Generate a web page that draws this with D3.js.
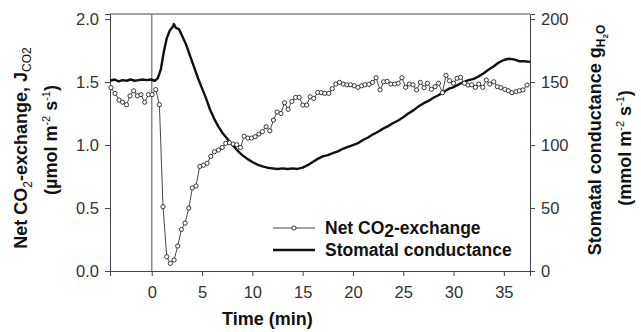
<!DOCTYPE html>
<html>
<head>
<meta charset="utf-8">
<script src="https://cdn.jsdelivr.net/npm/d3@7"></script>
<style>
  body { margin: 0; background: #fff; }
  text { font-family: "Liberation Sans", Arial, sans-serif; }
</style>
</head>
<body>
<div id="chart"></div>
<script>
// Net CO2 exchange (left axis), one sample every ~22 s
var co2Time = [-4.05,-3.65,-3.25,-2.9,-2.5,-2.16,-1.8,-1.43,-1.07,-0.7,-0.33,0.03,0.4,0.76,1.12,1.49,1.85,2.22,2.58,2.95,
  3.31,3.68,4.04,4.4,4.77,5.14,5.5,5.87,6.23,6.63,7.0,7.36,7.72,8.09,8.45,8.82,9.18,9.55,9.91,10.28,
  10.65,11.0,11.37,11.74,12.1,12.47,12.84,13.2,13.56,13.93,14.3,14.66,15.02,15.4,15.75,16.1,16.5,16.85,17.2,17.6,
  17.94,18.3,18.67,19.03,19.4,19.76,20.13,20.5,20.86,21.2,21.6,21.95,22.3,22.7,23.05,23.4,23.78,24.14,24.5,24.87,
  25.24,25.6,25.97,26.33,26.7,27.07,27.4,27.8,28.16,28.5,28.9,29.25,29.6,30.0,30.35,30.7,31.08,31.44,31.8,32.17,
  32.5,32.9,33.26,33.6,34.0,34.36,34.7,35.1,35.45,35.8,36.2,36.55,36.9,37.3];
var co2Value = [1.455,1.41,1.357,1.34,1.32,1.39,1.43,1.39,1.40,1.34,1.40,1.40,1.44,1.32,0.51,0.113,0.06,0.087,0.198,0.33,
  0.38,0.50,0.66,0.675,0.83,0.84,0.855,0.91,0.947,0.96,0.98,1.013,1.018,1.008,1.002,0.98,1.07,1.055,1.055,1.066,
  1.087,1.106,1.145,1.113,1.198,1.262,1.25,1.336,1.283,1.347,1.378,1.378,1.317,1.317,1.383,1.37,1.418,1.415,1.41,1.41,
  1.447,1.484,1.497,1.484,1.478,1.478,1.47,1.458,1.47,1.478,1.482,1.497,1.534,1.437,1.502,1.505,1.484,1.484,1.49,1.534,
  1.458,1.484,1.478,1.437,1.497,1.455,1.49,1.442,1.463,1.49,1.415,1.553,1.51,1.49,1.53,1.537,1.49,1.476,1.478,1.458,
  1.484,1.458,1.516,1.484,1.502,1.463,1.455,1.442,1.431,1.415,1.423,1.431,1.437,1.476];

// Stomatal conductance (right axis)
var gsTime = [-4.15,-3.7,-3.3,-2.9,-2.5,-2.1,-1.7,-1.3,-0.9,-0.5,-0.1,0.3,0.6,0.9,1.2,1.5,1.8,2.1,2.2,2.4,
  2.7,3.0,3.4,3.8,4.2,4.6,5.0,5.4,5.8,6.2,6.6,7.0,7.4,7.8,8.2,8.6,9.0,9.5,10,10.5,
  11,11.5,12,12.5,13,13.5,14,14.5,15,15.5,16,16.5,17,17.5,18,18.5,19,19.5,20,20.5,
  21,21.5,22,22.5,23,23.5,24,24.5,25,25.5,26,26.5,27,27.5,28,28.5,29,29.5,30,30.5,
  31,31.5,32,32.5,33,33.5,34,34.5,35,35.5,36,36.5,37,37.6];
var gsValue = [151,152,150.5,151.5,151,152,151,151.5,152,151.5,152,151,153,160,174,185,191,194,196,193,
  192,187,180,171,162,153,145,137,128,121,115,110,106,102,98.5,95,92,89,86.5,84.5,
  83,82,81.5,81,81.5,81,81.5,81,82,84,86.5,89,91,92,93.5,95,97,98.5,100,101.5,
  104,106,108.5,110.5,113,115,117.5,119.5,122,125,127.5,130.5,133,135,137.5,139.5,142,144.5,146,148,
  150,151.5,152.5,154.5,157,160,162.5,165.5,167.5,168.5,168,166.5,166.5,166];

var xTicks = [0, 5, 10, 15, 20, 25, 30, 35];
var leftTicks = [0, 0.5, 1.0, 1.5, 2.0];
var rightTicks = [0, 50, 100, 150, 200];

var W = 641, H = 332;
var margin = {top: 14, right: 111, bottom: 61, left: 110};

var svg = d3.select('#chart').append('svg')
  .attr('width', W).attr('height', H);

var x = d3.scaleLinear().domain([-4.15, 37.6]).range([margin.left, W - margin.right]);
var yL = d3.scaleLinear().domain([0, 2.04]).range([H - margin.bottom, margin.top]);
var yR = d3.scaleLinear().domain([0, 204]).range([H - margin.bottom, margin.top]);

var axisColor = '#444';

// frame top line
svg.append('line')
  .attr('x1', x.range()[0]).attr('x2', x.range()[1])
  .attr('y1', margin.top).attr('y2', margin.top)
  .attr('stroke', axisColor).attr('stroke-width', 1);

// x axis: minor ticks every minute, labels every 5
var minor = d3.range(-4, 38, 1);
var gx = svg.append('g').attr('transform', 'translate(0,' + (H - margin.bottom) + ')')
  .call(d3.axisBottom(x).tickValues(minor).tickSize(4).tickFormat(''));
gx.call(d3.axisBottom(x).tickValues(xTicks).tickSize(5).tickPadding(10).tickFormat(d3.format('d')));
gx.selectAll('path, line').attr('stroke', axisColor);
gx.selectAll('text').style('font-size', '16.5px').attr('fill', '#333');

var gl = svg.append('g').attr('transform', 'translate(' + margin.left + ',0)')
  .call(d3.axisLeft(yL).tickValues(leftTicks).tickSize(5).tickPadding(6).tickFormat(d3.format('.1f')));
gl.selectAll('path, line').attr('stroke', axisColor);
gl.selectAll('text').style('font-size', '16.5px').attr('fill', '#333');

var gr = svg.append('g').attr('transform', 'translate(' + (W - margin.right) + ',0)')
  .call(d3.axisRight(yR).tickValues(rightTicks).tickSize(5).tickPadding(6).tickFormat(d3.format('d')));
gr.selectAll('path, line').attr('stroke', axisColor);
gr.selectAll('text').style('font-size', '16.5px').attr('fill', '#333');

// vertical marker at t = 0
svg.append('line')
  .attr('x1', x(0)).attr('x2', x(0))
  .attr('y1', margin.top).attr('y2', H - margin.bottom)
  .attr('stroke', '#888').attr('stroke-width', 1.5);

// stomatal conductance
var gsData = gsTime.map(function(t, i) { return {t: t, v: gsValue[i]}; });
svg.append('path')
  .datum(gsData)
  .attr('fill', 'none').attr('stroke', '#111').attr('stroke-width', 2.4)
  .attr('stroke-linejoin', 'round')
  .attr('d', d3.line().x(function(d) { return x(d.t); }).y(function(d) { return yR(d.v); }));

// net CO2 exchange
var co2Data = co2Time.map(function(t, i) { return {t: t, v: co2Value[i]}; });
svg.append('path')
  .datum(co2Data)
  .attr('fill', 'none').attr('stroke', '#333').attr('stroke-width', 0.9)
  .attr('d', d3.line().x(function(d) { return x(d.t); }).y(function(d) { return yL(d.v); }));
svg.selectAll('.pt').data(co2Data).enter().append('circle')
  .attr('class', 'pt')
  .attr('cx', function(d) { return x(d.t); })
  .attr('cy', function(d) { return yL(d.v); })
  .attr('r', 2.1)
  .attr('fill', '#fff').attr('stroke', '#222').attr('stroke-width', 0.9);

// legend
var lg = svg.append('g');
lg.append('line').attr('x1', 273).attr('x2', 315).attr('y1', 228).attr('y2', 228)
  .attr('stroke', '#333').attr('stroke-width', 0.9);
lg.append('circle').attr('cx', 294).attr('cy', 228).attr('r', 2.1)
  .attr('fill', '#fff').attr('stroke', '#222').attr('stroke-width', 0.9);
lg.append('line').attr('x1', 273).attr('x2', 315).attr('y1', 250).attr('y2', 250)
  .attr('stroke', '#111').attr('stroke-width', 2.4);
var t1 = lg.append('text').attr('x', 325).attr('y', 234)
  .style('font-size', '17.5px').style('font-weight', 'bold').attr('fill', '#111');
t1.append('tspan').text('Net CO');
t1.append('tspan').attr('dy', 3).text('2');
t1.append('tspan').attr('dy', -3).text('-exchange');
lg.append('text').attr('x', 325).attr('y', 256)
  .style('font-size', '17.5px').style('font-weight', 'bold').attr('fill', '#111')
  .text('Stomatal conductance');

// x label
svg.append('text').attr('x', x(11.5)).attr('y', 325).attr('text-anchor', 'middle')
  .style('font-size', '18px').style('font-weight', 'bold').attr('fill', '#111')
  .text('Time (min)');

// left y label
var l1 = svg.append('text').attr('transform', 'translate(27,148) rotate(-90)')
  .attr('text-anchor', 'middle').style('font-size', '18px').style('font-weight', 'bold').attr('fill', '#111');
l1.append('tspan').text('Net CO');
l1.append('tspan').attr('dy', 5).style('font-size', '12px').style('font-weight', 'normal').text('2');
l1.append('tspan').attr('dy', -5).text('-exchange, J');
l1.append('tspan').attr('dy', 4).style('font-size', '12px').style('font-weight', 'normal').text('CO2');

var l2 = svg.append('text').attr('transform', 'translate(57,140) rotate(-90)')
  .attr('text-anchor', 'middle').style('font-size', '18px').style('font-weight', 'bold').attr('fill', '#111');
l2.append('tspan').text('(µmol m');
l2.append('tspan').attr('dy', -7).style('font-size', '11px').style('font-weight', 'normal').text('-2');
l2.append('tspan').attr('dy', 7).text(' s');
l2.append('tspan').attr('dy', -7).style('font-size', '11px').style('font-weight', 'normal').text('-1');
l2.append('tspan').attr('dy', 7).text(')');

// right y label
var r1 = svg.append('text').attr('transform', 'translate(601,140) rotate(-90)')
  .attr('text-anchor', 'middle').style('font-size', '18px').style('font-weight', 'bold').attr('fill', '#111');
r1.append('tspan').text('Stomatal conductance g');
r1.append('tspan').attr('dy', 4).style('font-size', '12px').text('H');
r1.append('tspan').attr('dy', 3).style('font-size', '8px').text('2');
r1.append('tspan').attr('dy', -3).style('font-size', '12px').text('O');

var r2 = svg.append('text').attr('transform', 'translate(631,148) rotate(-90)')
  .attr('text-anchor', 'middle').style('font-size', '18px').style('font-weight', 'bold').attr('fill', '#111');
r2.append('tspan').text('(mmol m');
r2.append('tspan').attr('dy', -7).style('font-size', '11px').style('font-weight', 'normal').text('-2');
r2.append('tspan').attr('dy', 7).text(' s');
r2.append('tspan').attr('dy', -7).style('font-size', '11px').style('font-weight', 'normal').text('-1');
r2.append('tspan').attr('dy', 7).text(')');
</script>
</body>
</html>
